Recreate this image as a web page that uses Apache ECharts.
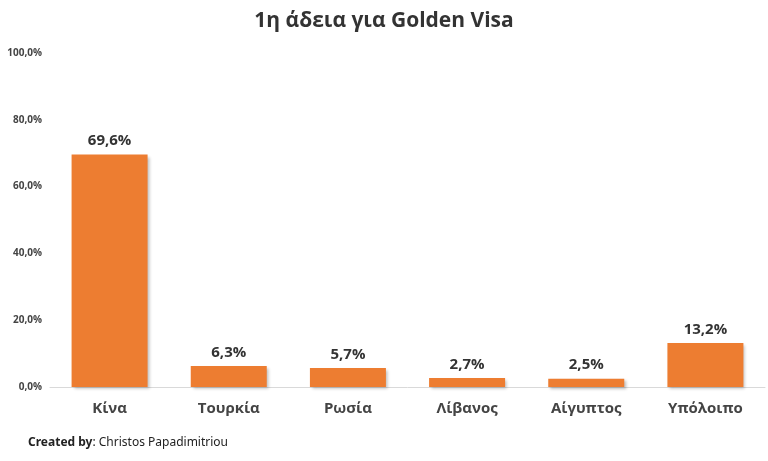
<!DOCTYPE html>
<html><head><meta charset="utf-8">
<script src="https://cdn.jsdelivr.net/npm/echarts@6/dist/echarts.min.js"></script>
<style>html,body{margin:0;background:#fff}#chart-container{width:768px;height:461px}</style>
</head><body>
<div id="chart-container"></div>
<script>
var categories = ['Κίνα', 'Τουρκία', 'Ρωσία', 'Λίβανος', 'Αίγυπτος', 'Υπόλοιπο'];
var values = [69.6, 6.3, 5.7, 2.7, 2.5, 13.2];
var yTicks = [0, 20, 40, 60, 80, 100];

var dom = document.getElementById('chart-container');
var myChart = echarts.init(dom, null, { renderer: 'canvas' });
var fmt = function (v) { return v.toFixed(1).replace('.', ','); };

var option = {
  animation: false,
  title: {
    text: '1η άδεια για Golden Visa',
    left: 'center', top: 6,
    textStyle: { fontFamily: 'Open Sans', fontSize: 21, fontWeight: 'bold', color: '#333' }
  },
  graphic: [{
    type: 'text', left: 28, top: 437,
    style: {
      rich: { b: { fontWeight: 'bold', fontSize: 12, fontFamily: 'Noto Sans', fill: '#222' },
              n: { fontSize: 12, fontFamily: 'Noto Sans', fill: '#222' } },
      text: '{b|Created by}{n|: Christos Papadimitriou}'
    }
  }],
  grid: { left: 50, right: 3, top: 53, bottom: 74 },
  xAxis: {
    type: 'category', data: categories,
    axisTick: { show: false },
    axisLine: { lineStyle: { color: '#d9d9d9' } },
    axisLabel: { fontFamily: 'Open Sans', fontSize: 15, fontWeight: 'bold', color: '#444', margin: 14 }
  },
  yAxis: {
    type: 'value', min: yTicks[0], max: yTicks[yTicks.length - 1], interval: 20,
    splitLine: { show: false },
    axisLabel: { formatter: function (v) { return fmt(v) + '%'; }, fontFamily: 'Open Sans', fontSize: 10, fontWeight: 'bold', color: '#444' }
  },
  series: [{
    type: 'bar', data: values, barWidth: 76,
    itemStyle: { color: '#ED7D31', shadowColor: 'rgba(0,0,0,0.25)', shadowBlur: 3, shadowOffsetX: 2, shadowOffsetY: 2 },
    label: { show: true, position: 'top', distance: 6, formatter: function (p) { return fmt(p.value) + '%'; },
      fontFamily: 'Open Sans', fontSize: 15, fontWeight: 'bold', color: '#333' }
  }]
};
myChart.setOption(option);
window.addEventListener('resize', myChart.resize);
</script>
</body></html>
